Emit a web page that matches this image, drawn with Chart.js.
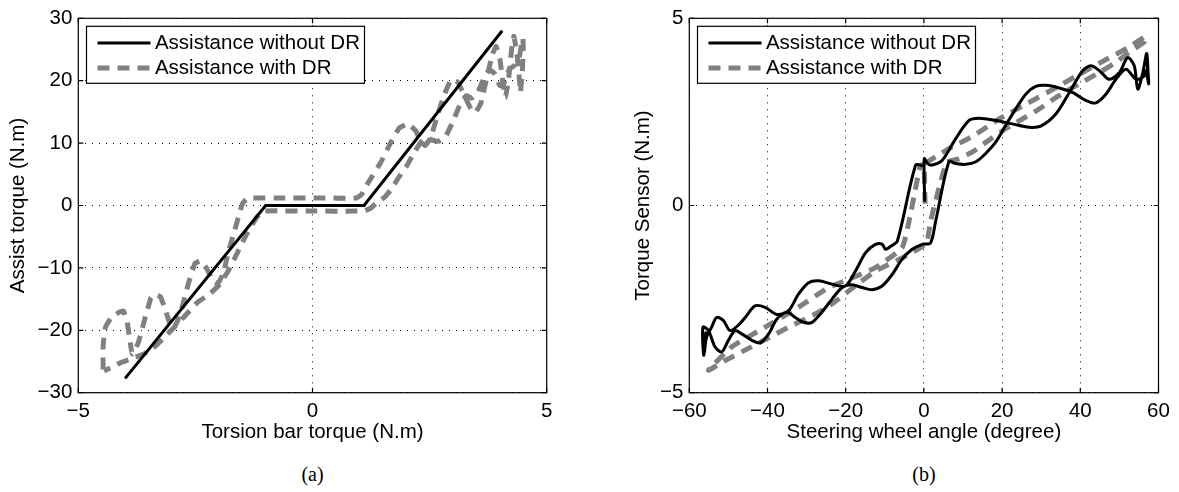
<!DOCTYPE html>
<html>
<head>
<meta charset="utf-8">
<script src="https://cdn.jsdelivr.net/npm/chart.js@4.4.1/dist/chart.umd.min.js"></script>
<style>
  html, body { margin: 0; padding: 0; background: #fff; }
  #wrap { position: relative; width: 1179px; height: 492px; background: #fff; }
  .panel { position: absolute; top: 0; height: 450px; }
  .cap { position: absolute; top: 462px; width: 80px; margin-left: -40px; text-align: center;
         font: 20px "Liberation Serif", "Times New Roman", serif; line-height: 24px; color: #000; }
</style>
</head>
<body>
<div id="wrap">
  <div class="panel" style="left:0;width:590px"><canvas id="chartA"></canvas></div>
  <div class="panel" style="left:590px;width:589px"><canvas id="chartB"></canvas></div>
  <div class="cap" style="left:312.5px">(a)</div>
  <div class="cap" style="left:924px">(b)</div>
</div>
<script>
// --- (a) assist torque vs torsion bar torque ---
const torsionNoDR = [-4.0, -1.0, 1.1, 4.05];
const assistNoDR  = [-27.7, 0, 0, 28.0];

const torsionDR = [
  -4.47, -4.47, -4.42, -4.3, -4.15, -4.04, -3.96, -3.9, -3.85, -3.72, -3.57, -3.45, -3.38, -3.25, -3.15, -3.05,
  -2.98, -2.88, -2.79, -2.65, -2.51, -2.38, -2.25, -2.12, -2.02, -1.9, -1.8, -1.68, -1.58, -1.5, -1.42, -1.3,
  -0.6, 0.2, 0.94, 1.05, 1.2, 1.45, 1.65, 1.85, 2.04, 2.2, 2.3, 2.4, 2.52, 2.65, 2.8, 2.96, 3.1, 3.25, 3.38,
  3.48, 3.6, 3.72, 3.84, 3.92, 4.0, 4.06, 4.12, 4.19, 4.25, 4.3, 4.37, 4.42, 4.44, 4.48, 4.5, 4.49,
  4.42, 4.32, 4.2, 4.08, 4.0, 3.9, 3.78, 3.65, 3.52, 3.4, 3.28, 3.15, 3.0, 2.85, 2.7, 2.55, 2.42, 2.3, 2.15,
  2.0, 1.84, 1.7, 1.55, 1.42, 1.35, 1.25, 1.1, 0.9, 0.0, -1.06, -1.2, -1.4, -1.6, -1.8, -2.0, -2.2, -2.45,
  -2.7, -2.95, -3.15, -3.35, -3.6, -3.85, -4.1, -4.3, -4.45
];
const assistDR = [
  -26.3, -22.5, -19.5, -18.0, -17.2, -16.9, -18.5, -21.5, -23.8, -22.0, -17.9, -14.8, -14.2, -14.6, -16.5, -18.8,
  -19.8, -18.5, -16.5, -12.5, -9.3, -8.9, -10.2, -12.2, -12.5, -10.8, -7.5, -4.5, -1.8, 0.2, 1.0, 1.2,
  1.2, 1.2, 1.2, 1.8, 3.8, 6.8, 9.8, 12.4, 13.1, 12.0, 10.5, 9.6, 10.8, 14.0, 17.5, 20.2, 19.8, 17.5, 15.5,
  14.9, 16.5, 20.5, 24.2, 25.5, 23.5, 20.0, 17.3, 20.5, 25.0, 27.1, 24.0, 20.0, 18.1, 21.5, 25.0, 26.8,
  24.0, 22.5, 21.8, 19.5, 19.2, 21.0, 21.8, 20.2, 18.0, 17.2, 17.6, 16.2, 13.5, 11.2, 10.3, 10.5, 10.9, 10.0, 8.2,
  6.2, 4.5, 2.8, 1.4, 0.7, 0.3, -0.4, -0.85, -0.9, -0.9, -0.9, -2.0, -4.5, -7.5, -10.5, -12.8, -14.2, -15.5,
  -17.5, -19.5, -21.0, -22.5, -23.8, -24.5, -25.2, -26.0, -26.5
];

// --- (b) torque sensor vs steering wheel angle ---
const angleNoDR = [
  0.2, 0.1, 1.0, 2.1, 4.7, 8.1, 11.5, 14.1, 18.4, 22.6, 26.9, 29.9, 33.8, 37.2, 40.6, 42.7, 44.9, 47.4, 50.0,
  52.1, 53.8, 54.7, 56.0, 57.0, 57.4, 57.1, 57.5, 56.8,
  56.4, 54.3, 51.7, 49.1, 46.6, 44.0, 41.5, 38.0, 34.6, 31.2, 28.6, 26.1, 23.5, 20.9, 18.4, 15.8, 13.3, 10.7,
  8.1, 6.4, 3.0, 1.7,
  -0.4, -3.0, -5.6, -8.1, -10.7, -13.3, -15.8, -18.4, -20.9, -23.5, -26.1, -28.6, -30.8, -32.9, -35.0, -37.6,
  -39.7, -41.9, -44.0, -46.6, -48.3, -50.0, -51.7, -53.4, -55.1, -56.5, -56.3, -55.8, -56.1, -55.6,
  -54.3, -53.0, -51.3, -49.6, -47.5, -45.7, -43.2, -40.6, -37.6, -34.6, -32.1, -29.5, -26.9, -23.5, -20.1,
  -17.5, -14.9, -12.4, -10.7, -9.8, -8.5, -6.8, -2.1, -0.4
];
const sensorNoDR = [
  0.1, 1.25, 1.12, 1.08, 1.21, 1.78, 2.27, 2.33, 2.27, 2.18, 2.09, 2.12, 2.45, 3.02, 3.60, 3.73, 3.60, 3.37, 3.55,
  3.95, 3.73, 3.11, 3.55, 4.06, 3.3, 3.85, 3.25, 3.6,
  3.46, 3.37, 3.64, 3.37, 2.98, 2.74, 2.80, 3.02, 3.14, 3.21, 3.18, 2.98, 2.58, 2.14, 1.70, 1.39, 1.17, 1.10,
  1.12, 1.17, -0.42, -1.0,
  -1.04, -1.17, -1.44, -1.84, -2.15, -2.25, -2.19, -2.12, -2.19, -2.50, -2.85, -3.12, -3.12, -2.99, -2.85, -3.03,
  -3.43, -3.67, -3.60, -3.43, -3.34, -3.60, -3.91, -3.78, -3.34, -3.25, -4.0, -3.4, -3.9, -3.52,
  -3.25, -2.99, -3.07, -3.34, -3.2, -2.99, -2.68, -2.72, -2.91, -2.81, -2.37, -2.06, -2.01, -2.10, -2.15,
  -1.75, -1.26, -1.04, -1.03, -1.17, -1.09, -0.95, 1.08, 1.06
];

const angleDR = [
  0.3, 0.3, 3.0, 6.4, 12.5, 19.2, 26.0, 33.8, 40.0, 46.6, 52.0, 56.8,
  56.5, 52.0, 49.1, 44.0, 38.9, 34.0, 29.5, 25.0, 20.9, 16.0, 12.4, 9.0, 5.8, 1.7, 0.85,
  -0.4, -5.6, -12.4, -19.2, -23.5, -27.8, -34.6, -40.0, -46.6, -51.0, -55.1,
  -49.2, -40.6, -32.1, -24.4, -19.2, -12.4, -5.6, -3.8, -1.3, -0.8, 0.3
];
const sensorDR = [
  0.05, 1.1, 1.3, 1.52, 1.85, 2.31, 2.7, 3.15, 3.52, 3.9, 4.2, 4.52,
  4.38, 4.05, 3.82, 3.5, 3.2, 2.9, 2.58, 2.3, 2.05, 1.7, 1.43, 1.25, 1.15, -0.42, -0.95,
  -1.09, -1.4, -1.75, -2.28, -2.63, -2.9, -3.25, -3.55, -3.91, -4.15, -4.4,
  -3.78, -3.25, -2.72, -2.19, -1.97, -1.66, -1.13, -0.42, 0.9, 1.08, 1.1
];

const ticksA_x = [-5, 0, 5];
const ticksA_y = [-30, -20, -10, 0, 10, 20, 30];
const ticksB_x = [-60, -40, -20, 0, 20, 40, 60];
const ticksB_y = [-5, 0, 5];

const seriesLabels = ['Assistance without DR', 'Assistance with DR'];

const fontFamily = '"Liberation Sans", Arial, Helvetica, sans-serif';
const fontSize = 20.5;
const toPoints = (xs, ys) => xs.map((x, i) => ({ x: x, y: ys[i] }));
const fmt = v => String(v).replace('-', '\u2212');

// axes box with inward tick marks, drawn over the lines
const axesBox = {
  id: 'axesBox',
  afterDatasetsDraw(chart) {
    const { ctx, chartArea: a, scales: { x, y } } = chart;
    const tl = 5;
    ctx.save();
    ctx.strokeStyle = '#000';
    ctx.lineWidth = 1.2;
    ctx.strokeRect(a.left, a.top, a.right - a.left, a.bottom - a.top);
    ctx.beginPath();
    x.ticks.forEach(t => {
      const px = x.getPixelForValue(t.value);
      ctx.moveTo(px, a.bottom); ctx.lineTo(px, a.bottom - tl);
      ctx.moveTo(px, a.top); ctx.lineTo(px, a.top + tl);
    });
    y.ticks.forEach(t => {
      const py = y.getPixelForValue(t.value);
      ctx.moveTo(a.left, py); ctx.lineTo(a.left + tl, py);
      ctx.moveTo(a.right, py); ctx.lineTo(a.right - tl, py);
    });
    ctx.stroke();
    ctx.restore();
  }
};

// legend drawn inside the plot, top-left corner
const boxLegend = {
  id: 'boxLegend',
  afterDraw(chart, args, opts) {
    const { ctx, chartArea: a } = chart;
    const bx = a.left + opts.dx, by = a.top + opts.dy;
    ctx.save();
    ctx.fillStyle = '#fff';
    ctx.fillRect(bx, by, opts.width, opts.height);
    ctx.strokeStyle = '#000';
    ctx.lineWidth = 1.2;
    ctx.strokeRect(bx, by, opts.width, opts.height);
    ctx.font = fontSize + 'px ' + fontFamily;
    ctx.textBaseline = 'middle';
    chart.data.datasets.forEach((ds, i) => {
      const yy = by + 16.7 + i * 25;
      ctx.save();
      ctx.strokeStyle = ds.borderColor;
      ctx.lineWidth = ds.borderWidth;
      ctx.setLineDash(ds.borderDash || []);
      ctx.beginPath();
      ctx.moveTo(bx + 11, yy);
      ctx.lineTo(bx + 64, yy);
      ctx.stroke();
      ctx.restore();
      ctx.fillStyle = '#000';
      ctx.fillText(ds.label, bx + 68.4, yy);
    });
    ctx.restore();
  }
};

function makeScale(min, max, ticks, title, fitSize, isX, titlePad) {
  return {
    type: 'linear',
    min: min,
    max: max,
    afterBuildTicks: s => { s.ticks = ticks.map(v => ({ value: v })); },
    afterFit: s => { if (isX) s.height = fitSize; else s.width = fitSize; },
    grid: { color: '#000', lineWidth: 1, drawTicks: false },
    border: { display: false, dash: [1, 6] },
    ticks: {
      color: '#000',
      padding: 6,
      font: { family: fontFamily, size: fontSize },
      callback: v => fmt(v)
    },
    title: {
      display: true,
      text: title,
      color: '#000',
      font: { family: fontFamily, size: fontSize },
      padding: isX ? { top: 0, bottom: titlePad } : { top: titlePad, bottom: 0 }
    }
  };
}

function makeChart(id, dataNo, dataDR, sc, pad, tension, tensionDR) {
  return new Chart(document.getElementById(id), {
    type: 'scatter',
    data: {
      datasets: [
        { label: seriesLabels[0], data: dataNo, showLine: true, borderColor: '#000', borderWidth: 3,
          pointRadius: 0, tension: tension, fill: false },
        { label: seriesLabels[1], data: dataDR, showLine: true, borderColor: '#808080', borderWidth: 5,
          borderDash: [12, 8], pointRadius: 0, tension: tensionDR, fill: false }
      ]
    },
    options: {
      responsive: true,
      maintainAspectRatio: false,
      animation: false,
      layout: { padding: pad },
      plugins: {
        legend: { display: false },
        tooltip: { enabled: false },
        boxLegend: { dx: 8.2, dy: 8, width: 278, height: 57 }
      },
      scales: sc
    },
    plugins: [axesBox, boxLegend]
  });
}

makeChart('chartA',
  toPoints(torsionNoDR, assistNoDR),
  toPoints(torsionDR, assistDR),
  {
    x: makeScale(-5, 5, ticksA_x, 'Torsion bar torque (N.m)', 57.3, true, 5),
    y: makeScale(-30, 30, ticksA_y, 'Assist torque (N.m)', 78.3, false, 6)
  },
  { top: 15.3, right: 43.3, left: 0, bottom: 0 }, 0, 0.1);

makeChart('chartB',
  toPoints(angleNoDR, sensorNoDR),
  toPoints(angleDR, sensorDR),
  {
    x: makeScale(-60, 60, ticksB_x, 'Steering wheel angle (degree)', 57.3, true, 5),
    y: makeScale(-5, 5, ticksB_y, 'Torque Sensor (N.m)', 99.3, false, 41)
  },
  { top: 15.3, right: 20.5, left: 0, bottom: 0 }, 0.3, 0.15);
</script>
</body>
</html>
